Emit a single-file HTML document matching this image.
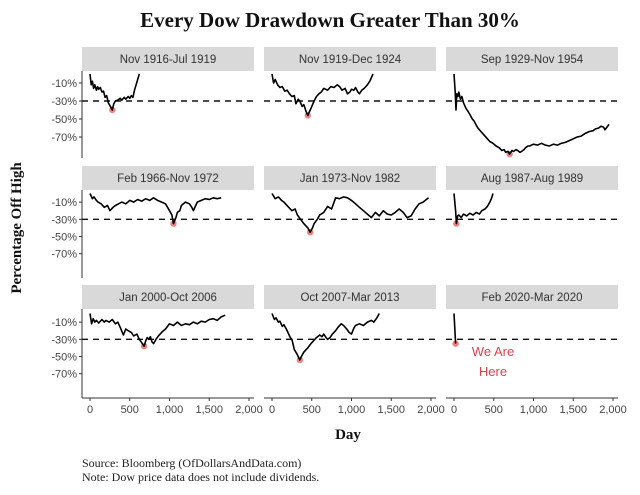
<!DOCTYPE html>
<html><head><meta charset="utf-8"><style>
body{margin:0;background:#fff;width:640px;height:495px;overflow:hidden}
svg{display:block}
.s{font-family:"Liberation Sans",sans-serif;font-size:11.5px;fill:#333}
.t{font-family:"Liberation Sans",sans-serif;font-size:11px;fill:#444}
.f{font-family:"Liberation Serif",serif}
</style></head><body>
<svg id="c" width="640" height="495">
<text x="330" y="27" text-anchor="middle" class="f" font-size="21" font-weight="bold" fill="#111">Every Dow Drawdown Greater Than 30%</text>
<text transform="translate(21,228) rotate(-90)" text-anchor="middle" class="f" font-size="15" font-weight="bold" fill="#111">Percentage Off High</text>
<text x="348" y="439" text-anchor="middle" class="f" font-size="15" font-weight="bold" fill="#111">Day</text>
<text x="82" y="467" class="f" font-size="12" fill="#222">Source: Bloomberg (OfDollarsAndData.com)</text>
<text x="82" y="481" class="f" font-size="12" fill="#222">Note: Dow price data does not include dividends.</text>
</svg>
<script>
const titles=["Nov 1916-Jul 1919","Nov 1919-Dec 1924","Sep 1929-Nov 1954","Feb 1966-Nov 1972","Jan 1973-Nov 1982","Aug 1987-Aug 1989","Jan 2000-Oct 2006","Oct 2007-Mar 2013","Feb 2020-Mar 2020"];
const yTicks=[-10,-30,-50,-70];
const yTickLabels=["-10%","-30%","-50%","-70%"];
const xTicks=[0,500,1000,1500,2000];
const xTickLabels=["0","500","1,000","1,500","2,000"];
const threshold=-30;
const days1=[0,15,30,45,60,80,95,110,130,150,170,190,210,230,250,280,300,320,350,380,400,430,450,480,500,520,540,560,580,600,620];
const vals1=[0,-12,-8,-16,-12,-18,-14,-17,-15,-20,-19,-26,-24,-32,-35,-40,-33,-30,-29,-27,-29,-26,-28,-25,-27,-24,-26,-18,-12,-6,0];
const days2=[0,20,40,70,100,130,160,190,220,250,280,300,330,350,380,400,430,450,480,500,530,560,590,620,650,700,740,780,820,850,880,920,950,980,1000,1030,1050,1080,1100,1130,1160,1200,1230,1270];
const vals2=[0,-10,-6,-12,-15,-14,-19,-18,-22,-25,-24,-33,-28,-30,-36,-34,-42,-46,-40,-36,-30,-25,-22,-20,-16,-18,-14,-15,-12,-14,-18,-16,-22,-20,-17,-18,-15,-20,-22,-18,-16,-12,-8,0];
const days3=[0,15,25,35,50,60,80,100,120,150,180,200,230,250,280,300,340,380,420,450,490,530,570,600,630,650,680,700,730,750,780,800,830,850,880,900,930,950,1000,1050,1100,1150,1200,1250,1300,1350,1400,1450,1500,1550,1600,1650,1700,1750,1780,1820,1850,1880,1900,1950];
const vals3=[0,-20,-40,-22,-25,-20,-28,-25,-32,-38,-42,-45,-50,-52,-57,-60,-64,-68,-72,-75,-77,-80,-82,-85,-84,-87,-86,-89,-85,-86,-84,-85,-87,-86,-84,-82,-80,-80,-78,-79,-77,-79,-80,-78,-79,-77,-76,-74,-72,-70,-69,-66,-64,-63,-61,-60,-58,-59,-62,-56];
const days4=[0,30,50,80,100,140,180,220,250,290,320,360,400,450,500,550,600,650,700,750,800,850,900,950,1000,1030,1050,1080,1100,1130,1150,1200,1250,1280,1300,1330,1350,1400,1450,1500,1550,1600,1650];
const vals4=[0,-6,-4,-8,-10,-12,-16,-14,-20,-16,-14,-12,-10,-12,-8,-10,-7,-9,-6,-8,-5,-8,-10,-12,-20,-25,-35,-28,-22,-20,-14,-10,-12,-16,-20,-14,-10,-8,-6,-7,-5,-6,-5];
const days5=[0,40,80,120,150,200,250,290,320,360,400,430,450,480,510,530,570,600,650,700,750,800,850,900,950,1000,1050,1100,1150,1200,1250,1300,1350,1400,1450,1500,1550,1600,1650,1700,1750,1800,1850,1900,1970];
const vals5=[0,-6,-4,-8,-10,-15,-20,-18,-25,-30,-35,-38,-40,-45,-40,-35,-30,-25,-22,-15,-18,-5,-6,-4,-5,-8,-12,-16,-20,-24,-28,-22,-26,-20,-24,-25,-22,-18,-22,-28,-26,-18,-12,-10,-5];
const days6=[0,20,30,45,60,90,120,160,200,240,280,320,350,390,420,450,470,490];
const vals6=[0,-20,-35,-26,-25,-28,-24,-26,-23,-25,-22,-24,-20,-18,-15,-10,-6,0];
const days7=[0,20,40,60,80,110,150,180,200,240,280,320,350,380,420,450,480,520,550,590,620,650,680,700,720,740,760,780,800,830,860,900,950,1000,1050,1100,1150,1200,1250,1300,1350,1400,1450,1500,1550,1600,1650,1700];
const vals7=[0,-12,-6,-10,-8,-11,-7,-10,-8,-10,-7,-12,-10,-16,-25,-18,-20,-22,-26,-24,-30,-34,-38,-32,-28,-30,-27,-33,-35,-30,-26,-22,-18,-12,-14,-10,-14,-12,-13,-10,-12,-9,-10,-7,-6,-8,-4,-2];
const days8=[0,30,50,80,100,130,150,180,200,230,250,280,300,320,350,370,400,430,450,480,520,560,600,630,650,680,700,730,760,800,830,870,900,940,970,1000,1030,1050,1100,1150,1200,1250,1280,1320,1350];
const vals8=[0,-7,-5,-10,-9,-15,-13,-18,-22,-28,-30,-42,-45,-48,-54,-50,-45,-42,-40,-36,-32,-28,-25,-27,-24,-28,-30,-28,-24,-20,-16,-12,-14,-18,-22,-24,-17,-14,-12,-14,-10,-8,-10,-5,0];
const days9=[0,20];
const vals9=[0,-35];
const allDays=[days1,days2,days3,days4,days5,days6,days7,days8,days9];
const allVals=[vals1,vals2,vals3,vals4,vals5,vals6,vals7,vals8,vals9];
const NS="http://www.w3.org/2000/svg";
const svg=document.getElementById('c');
function mk(tag,attrs,parent){const e=document.createElementNS(NS,tag);for(const k in attrs)e.setAttribute(k,attrs[k]);(parent||svg).appendChild(e);return e;}
const colX=[82,264,446], panelW=172;
const rows=[{strip:47,top:71,bottom:158,zero:74,k:0.9},{strip:166,top:190,bottom:278,zero:193.5,k:0.86},{strip:285,top:309,bottom:398,zero:313.5,k:0.86}];
function xScale(col,d){return colX[col]+8+d*(159/2000);}
function yScale(row,v){return rows[row].zero - v*rows[row].k;}
for(let i=0;i<9;i++){
  const col=i%3,row=Math.floor(i/3),R=rows[row],x0=colX[col];
  const g=mk('g',{});
  
  
  const st=mk('rect',{x:x0,y:R.strip,width:panelW,height:24,fill:'#d9d9d9'},g);
  
  
  const tt=mk('text',{x:x0+panelW/2,y:R.strip+16,'text-anchor':'middle',class:'s'},g);
  tt.textContent=titles[i];
  
  
  const ty=yScale(row,threshold);
  const dl=mk('line',{x1:x0,x2:x0+panelW,y1:ty,y2:ty,stroke:'#111','stroke-width':1.4,'stroke-dasharray':'6,5'},g);
  
  
  const ds=allDays[i],vs=allVals[i];
  let p='',mi=0;
  for(let j=0;j<ds.length;j++){p+=(j?'L':'M')+xScale(col,ds[j]).toFixed(1)+','+yScale(row,vs[j]).toFixed(1);if(vs[j]<vs[mi])mi=j;}
  const mc=mk('circle',{cx:xScale(col,ds[mi]),cy:yScale(row,vs[mi]),r:3.2,fill:'#f06a6a',opacity:0.85},g);
  
  
  const ln=mk('path',{d:p,fill:'none',stroke:'#000','stroke-width':1.6,'stroke-linejoin':'round'},g);
  
  
  if(col===0){
    const ya=mk('line',{x1:x0,x2:x0,y1:R.top,y2:R.bottom,stroke:'#333','stroke-width':1},g);
    
    
    yTicks.forEach((v,k)=>{const y=yScale(row,v);
      mk('line',{x1:x0-3,x2:x0,y1:y,y2:y,stroke:'#333'},g);
      const tl=mk('text',{x:x0-5,y:y+4,'text-anchor':'end',class:'t'},g);
      tl.textContent=yTickLabels[k];
      
      });
  }
  if(row===2){
    const xa=mk('line',{x1:x0,x2:x0+panelW,y1:R.bottom,y2:R.bottom,stroke:'#333','stroke-width':1},g);
    
    
    xTicks.forEach((d,k)=>{const x=xScale(col,d);
      mk('line',{x1:x,x2:x,y1:R.bottom,y2:R.bottom+3,stroke:'#333'},g);
      const tl=mk('text',{x:x,y:R.bottom+15,'text-anchor':'middle',class:'t'},g);
      tl.textContent=xTickLabels[k];
      
      });
  }
  if(i===8){
    const a=mk('text',{x:x0+47,y:356,'text-anchor':'middle',class:'s',style:'fill:#e04050;font-size:13px'},g);
    a.textContent='We Are';
    
    
    const b=mk('text',{x:x0+47,y:376,'text-anchor':'middle',class:'s',style:'fill:#e04050;font-size:13px'},g);
    b.textContent='Here';
    
    
  }
}
</script>
</body></html>
